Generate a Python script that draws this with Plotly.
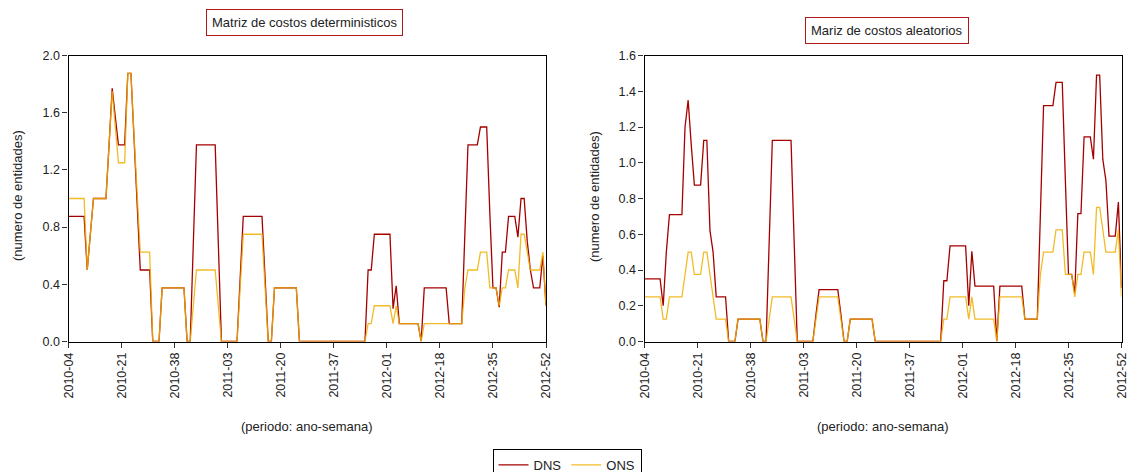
import plotly.graph_objects as go

# week index 0..153 covers 2010-04 .. 2012-52
tick_pos = [0, 17, 34, 51, 68, 85, 102, 119, 136, 153]
tick_labels = ["2010-04", "2010-21", "2010-38", "2011-03", "2011-20",
               "2011-37", "2012-01", "2012-18", "2012-35", "2012-52"]

dns_det = [
    0.875, 0.875, 0.875, 0.875, 0.875, 0.875, 0.5, 0.75, 1.0, 1.0,
    1.0, 1.0, 1.0, 1.375, 1.77, 1.57, 1.375, 1.375, 1.375, 1.875,
    1.875, 1.42, 0.96, 0.5, 0.5, 0.5, 0.5, 0, 0, 0,
    0.375, 0.375, 0.375, 0.375, 0.375, 0.375, 0.375, 0.375, 0, 0,
    0.69, 1.375, 1.375, 1.375, 1.375, 1.375, 1.375, 1.375, 0.69, 0,
    0, 0, 0, 0, 0, 0.44, 0.875, 0.875, 0.875, 0.875,
    0.875, 0.875, 0.875, 0.44, 0, 0, 0.375, 0.375, 0.375, 0.375,
    0.375, 0.375, 0.375, 0.375, 0, 0, 0, 0, 0, 0,
    0, 0, 0, 0, 0, 0, 0, 0, 0, 0,
    0, 0, 0, 0, 0, 0, 0.5, 0.5, 0.75, 0.75,
    0.75, 0.75, 0.75, 0.75, 0.23, 0.39, 0.125, 0.125, 0.125, 0.125,
    0.125, 0.125, 0.125, 0, 0.375, 0.375, 0.375, 0.375, 0.375, 0.375,
    0.375, 0.375, 0.125, 0.125, 0.125, 0.125, 0.125, 0.75, 1.375, 1.375,
    1.375, 1.375, 1.5, 1.5, 1.5, 0.9, 0.375, 0.375, 0.24, 0.625,
    0.625, 0.875, 0.875, 0.875, 0.73, 1.0, 1.0, 0.7, 0.5, 0.375,
    0.375, 0.375, 0.6, 0.25,
]
ons_det = [
    1.0, 1.0, 1.0, 1.0, 1.0, 1.0, 0.5, 0.75, 1.0, 1.0,
    1.0, 1.0, 1.0, 1.375, 1.75, 1.5, 1.25, 1.25, 1.25, 1.875,
    1.875, 1.44, 1.0, 0.625, 0.625, 0.625, 0.625, 0, 0, 0,
    0.375, 0.375, 0.375, 0.375, 0.375, 0.375, 0.375, 0.375, 0, 0,
    0.25, 0.5, 0.5, 0.5, 0.5, 0.5, 0.5, 0.5, 0.25, 0,
    0, 0, 0, 0, 0, 0.375, 0.75, 0.75, 0.75, 0.75,
    0.75, 0.75, 0.75, 0.375, 0, 0, 0.375, 0.375, 0.375, 0.375,
    0.375, 0.375, 0.375, 0.375, 0, 0, 0, 0, 0, 0,
    0, 0, 0, 0, 0, 0, 0, 0, 0, 0,
    0, 0, 0, 0, 0, 0, 0.125, 0.125, 0.25, 0.25,
    0.25, 0.25, 0.25, 0.25, 0.125, 0.25, 0.125, 0.125, 0.125, 0.125,
    0.125, 0.125, 0.125, 0, 0.125, 0.125, 0.125, 0.125, 0.125, 0.125,
    0.125, 0.125, 0.125, 0.125, 0.125, 0.125, 0.125, 0.375, 0.5, 0.5,
    0.5, 0.5, 0.625, 0.625, 0.625, 0.375, 0.375, 0.375, 0.25, 0.375,
    0.375, 0.5, 0.5, 0.5, 0.375, 0.75, 0.75, 0.625, 0.5, 0.5,
    0.5, 0.5, 0.625, 0.25,
]
dns_ale = [
    0.35, 0.35, 0.35, 0.35, 0.35, 0.35, 0.2, 0.5, 0.71, 0.71,
    0.71, 0.71, 0.71, 1.2, 1.35, 1.1, 0.875, 0.875, 0.875, 1.125,
    1.125, 0.62, 0.5, 0.25, 0.25, 0.25, 0.25, 0, 0, 0,
    0.125, 0.125, 0.125, 0.125, 0.125, 0.125, 0.125, 0.125, 0, 0,
    0.56, 1.125, 1.125, 1.125, 1.125, 1.125, 1.125, 1.125, 0.56, 0,
    0, 0, 0, 0, 0, 0.15, 0.29, 0.29, 0.29, 0.29,
    0.29, 0.29, 0.29, 0.15, 0, 0, 0.125, 0.125, 0.125, 0.125,
    0.125, 0.125, 0.125, 0.125, 0, 0, 0, 0, 0, 0,
    0, 0, 0, 0, 0, 0, 0, 0, 0, 0,
    0, 0, 0, 0, 0, 0, 0.34, 0.34, 0.535, 0.535,
    0.535, 0.535, 0.535, 0.535, 0.2, 0.505, 0.31, 0.31, 0.31, 0.31,
    0.31, 0.31, 0.31, 0, 0.31, 0.31, 0.31, 0.31, 0.31, 0.31,
    0.31, 0.31, 0.125, 0.125, 0.125, 0.125, 0.125, 0.72, 1.32, 1.32,
    1.32, 1.32, 1.45, 1.45, 1.45, 0.9, 0.375, 0.375, 0.27, 0.715,
    0.715, 1.145, 1.145, 1.145, 1.02, 1.49, 1.49, 1.02, 0.9, 0.59,
    0.59, 0.59, 0.78, 0.3,
]
ons_ale = [
    0.25, 0.25, 0.25, 0.25, 0.25, 0.25, 0.125, 0.125, 0.25, 0.25,
    0.25, 0.25, 0.25, 0.375, 0.5, 0.5, 0.375, 0.375, 0.375, 0.5,
    0.5, 0.375, 0.25, 0.125, 0.125, 0.125, 0.125, 0, 0, 0,
    0.125, 0.125, 0.125, 0.125, 0.125, 0.125, 0.125, 0.125, 0, 0,
    0.125, 0.25, 0.25, 0.25, 0.25, 0.25, 0.25, 0.25, 0.125, 0,
    0, 0, 0, 0, 0, 0.125, 0.25, 0.25, 0.25, 0.25,
    0.25, 0.25, 0.25, 0.125, 0, 0, 0.125, 0.125, 0.125, 0.125,
    0.125, 0.125, 0.125, 0.125, 0, 0, 0, 0, 0, 0,
    0, 0, 0, 0, 0, 0, 0, 0, 0, 0,
    0, 0, 0, 0, 0, 0, 0.125, 0.125, 0.25, 0.25,
    0.25, 0.25, 0.25, 0.25, 0.125, 0.25, 0.125, 0.125, 0.125, 0.125,
    0.125, 0.125, 0.125, 0, 0.25, 0.25, 0.25, 0.25, 0.25, 0.25,
    0.25, 0.25, 0.125, 0.125, 0.125, 0.125, 0.125, 0.375, 0.5, 0.5,
    0.5, 0.5, 0.625, 0.625, 0.625, 0.375, 0.375, 0.375, 0.25, 0.375,
    0.375, 0.5, 0.5, 0.5, 0.375, 0.75, 0.75, 0.625, 0.5, 0.5,
    0.5, 0.5, 0.625, 0.25,
]
weeks = list(range(len(dns_det)))

DNS_COLOR = "#a50000"
ONS_COLOR = "#f0b000"
FONT = "Liberation Sans, Arial, sans-serif"

W, H = 1127, 472
fig = go.Figure()

fig.add_trace(go.Scatter(x=weeks, y=dns_det, mode="lines", name="DNS",
                         line=dict(color=DNS_COLOR, width=1.3), xaxis="x", yaxis="y"))
fig.add_trace(go.Scatter(x=weeks, y=ons_det, mode="lines", name="ONS",
                         line=dict(color=ONS_COLOR, width=1.3), opacity=0.85,
                         xaxis="x", yaxis="y"))
fig.add_trace(go.Scatter(x=weeks, y=dns_ale, mode="lines", name="DNS", showlegend=False,
                         line=dict(color=DNS_COLOR, width=1.3), xaxis="x2", yaxis="y2"))
fig.add_trace(go.Scatter(x=weeks, y=ons_ale, mode="lines", name="ONS", showlegend=False,
                         line=dict(color=ONS_COLOR, width=1.3), opacity=0.85,
                         xaxis="x2", yaxis="y2"))

ydom = [1 - 341.5 / H, 1 - 55.5 / H]
xaxis_common = dict(
    range=[0, 153], tickmode="array", tickvals=tick_pos, ticktext=tick_labels,
    tickangle=-90, ticks="outside", ticklen=5, tickcolor="#333", tickwidth=1,
    showline=True, linecolor="black", linewidth=1.3, mirror=True,
    showgrid=False, zeroline=False, automargin=False, ticklabeloverflow="allow",
    tickfont=dict(family=FONT, size=12.5, color="#222"),
)
yaxis_common = dict(
    ticks="outside", ticklen=5, tickcolor="#333", tickwidth=1,
    showline=True, linecolor="black", linewidth=1.3, mirror=True,
    showgrid=False, zeroline=False, automargin=False, tickformat=".1f",
    tickfont=dict(family=FONT, size=12.5, color="#222"),
)

fig.update_layout(
    width=W, height=H,
    margin=dict(l=0, r=0, t=0, b=0, autoexpand=False),
    paper_bgcolor="white", plot_bgcolor="white",
    font=dict(family=FONT, size=13, color="#222"),
    xaxis=dict(domain=[68.5 / W, 546 / W], anchor="y", **xaxis_common),
    yaxis=dict(domain=ydom, anchor="x", range=[0, 2.0], dtick=0.4, **yaxis_common),
    xaxis2=dict(domain=[644.5 / W, 1121.5 / W], anchor="y2", **xaxis_common),
    yaxis2=dict(domain=ydom, anchor="x2", range=[0, 1.6], dtick=0.2, **yaxis_common),
    showlegend=True,
    legend=dict(orientation="h", x=567 / W, xanchor="center", y=1 - 449 / H, yanchor="top",
                bordercolor="black", borderwidth=1, bgcolor="white",
                font=dict(family=FONT, size=13, color="#222"),
                itemwidth=30, tracegroupgap=0),
)

def ann(text, x, y, **kw):
    d = dict(text=text, x=x / W, y=1 - y / H, xref="paper", yref="paper",
             xanchor="center", yanchor="middle", showarrow=False,
             font=dict(family=FONT, size=13, color="#222"))
    d.update(kw)
    return d

annotations = [
    ann("Matriz de costos deterministicos", 304.5, 22.5,
        bordercolor="#b01818", borderwidth=1, borderpad=5, bgcolor="white"),
    ann("Mariz de costos aleatorios", 887, 30,
        bordercolor="#b01818", borderwidth=1, borderpad=5, bgcolor="white"),
    ann("(numero de entidades)", 17, 196, textangle=-90),
    ann("(numero de entidades)", 594, 196, textangle=-90),
    ann("(periodo: ano-semana)", 307, 426),
    ann("(periodo: ano-semana)", 883, 426),
]
fig.update_layout(annotations=annotations)

fig.write_html("out.html", config={"displayModeBar": False},
               post_script="document.body.style.margin='0';document.body.style.overflow='hidden';")
